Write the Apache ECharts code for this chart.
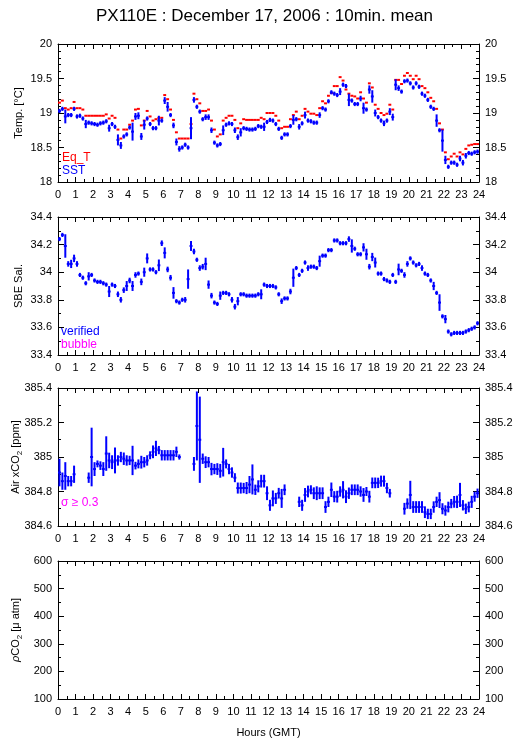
<!DOCTYPE html>
<html><head><meta charset="utf-8">
<script src="https://cdn.jsdelivr.net/npm/echarts@6/dist/echarts.min.js"></script>
<style>html,body{margin:0;padding:0;background:#fff}#c{width:529px;height:739px}</style>
</head><body><div id="c"></div>
<script>
const TITLE = 'PX110E : December 17, 2006 : 10min. mean';
const SLOT_MINUTES = 10;

// Panel 1: temperatures (°C), one value per 10-min slot, 0..24 h
const SST = [
19.03,19.06,18.95,18.97,18.97,19.06, 18.95,18.96,18.92,18.84,18.86,18.85,
18.84,18.83,18.85,18.86,18.88,18.78, 18.84,18.80,18.61,18.53,18.66,18.69,
18.79,18.73,18.95,18.96,18.66,18.83, 18.92,18.84,18.78,18.78,18.89,18.89,
19.18,19.09,18.97,18.82,18.58,18.48, 18.50,18.54,18.50,18.78,19.19,19.09,
19.02,18.91,18.94,18.94,18.75,18.57, 18.53,18.55,18.75,18.83,18.85,18.84,
18.75,18.65,18.72,18.78,18.77,18.76, 18.76,18.77,18.81,18.80,18.80,18.87,
18.90,18.89,18.84,18.77,18.64,18.69, 18.69,18.81,18.90,18.91,18.80,18.85,
18.97,18.89,18.88,18.86,18.86,18.97, 19.07,19.05,19.17,19.30,19.28,19.26,
19.31,19.41,19.39,19.19,19.18,19.13, 19.13,19.21,19.07,19.05,19.34,19.24,
19.00,18.94,18.89,18.85,18.89,19.02, 18.94,19.41,19.36,19.31,19.46,19.47,
19.43,19.37,19.43,19.38,19.28,19.25, 19.19,19.09,19.06,18.89,18.75,18.60,
18.32,18.22,18.28,18.28,18.25,18.34, 18.28,18.38,18.42,18.41,18.43,18.44
];
const SST_SD = [
0.03,0.03,0.10,0.03,0.03,0.03, 0.03,0.03,0.03,0.06,0.03,0.03,
0.03,0.03,0.03,0.03,0.03,0.05, 0.03,0.03,0.08,0.05,0.03,0.03,
0.03,0.13,0.05,0.05,0.05,0.07, 0.03,0.03,0.03,0.03,0.07,0.03,
0.05,0.07,0.03,0.04,0.05,0.04, 0.03,0.03,0.03,0.16,0.04,0.03,
0.03,0.03,0.04,0.04,0.04,0.03, 0.03,0.03,0.07,0.03,0.03,0.03,
0.04,0.04,0.06,0.03,0.03,0.03, 0.03,0.03,0.03,0.03,0.06,0.03,
0.03,0.03,0.03,0.03,0.03,0.03, 0.03,0.03,0.07,0.03,0.04,0.03,
0.05,0.03,0.03,0.03,0.03,0.04, 0.03,0.03,0.03,0.03,0.03,0.03,
0.05,0.03,0.03,0.09,0.03,0.03, 0.03,0.04,0.08,0.03,0.06,0.09,
0.05,0.03,0.03,0.04,0.03,0.05, 0.05,0.08,0.04,0.03,0.03,0.03,
0.03,0.03,0.03,0.03,0.03,0.03, 0.03,0.03,0.03,0.09,0.03,0.16,
0.06,0.03,0.03,0.03,0.03,0.04, 0.04,0.04,0.03,0.03,0.03,0.03
];
const EQ_T = [
19.15,19.18,19.07,19.05,19.07,19.16, 19.07,19.07,19.05,18.96,18.96,18.96,
18.96,18.96,18.96,18.96,18.98,18.92, 18.96,18.93,18.76,18.63,18.76,18.76,
18.83,18.89,19.05,19.06,18.82,18.89, 19.03,18.95,18.89,18.91,18.93,18.93,
19.26,19.20,19.05,18.90,18.72,18.63, 18.63,18.63,18.63,18.84,19.28,19.20,
19.14,19.03,19.03,19.05,18.89,18.76, 18.66,18.69,18.89,18.93,18.96,18.96,
18.90,18.78,18.85,18.91,18.90,18.90, 18.90,18.90,18.90,18.93,18.91,19.00,
19.00,19.00,18.96,18.89,18.78,18.80, 18.80,18.91,18.97,19.02,18.91,18.96,
19.06,19.02,18.99,18.99,18.97,19.07, 19.17,19.14,19.25,19.29,19.39,19.39,
19.52,19.47,19.34,19.28,19.25,19.24, 19.21,19.30,19.21,19.15,19.43,19.37,
19.12,19.06,19.00,18.97,18.99,19.12, 19.05,19.48,19.48,19.42,19.54,19.58,
19.54,19.49,19.54,19.49,19.39,19.36, 19.30,19.22,19.17,19.06,18.85,18.76,
18.43,18.33,18.37,18.41,18.37,18.43, 18.40,18.48,18.53,18.54,18.55,18.55
];

// Panel 2: SBE salinity
const SAL = [
34.24,34.27,34.19,34.06,34.06,34.10, 34.06,33.98,33.96,33.92,33.97,33.98,
33.94,33.93,33.93,33.92,33.91,33.86, 33.91,33.90,33.84,33.80,33.87,33.90,
33.94,33.90,33.98,33.99,33.93,34.00, 34.10,34.02,34.02,34.00,34.05,34.21,
34.14,34.02,33.96,33.85,33.79,33.78, 33.80,33.80,33.95,34.19,34.15,34.09,
34.03,34.04,34.06,33.91,33.83,33.78, 33.77,33.83,33.85,33.85,33.84,33.80,
33.75,33.79,33.84,33.84,33.83,33.83, 33.83,33.83,33.84,33.84,33.91,33.90,
33.90,33.90,33.89,33.84,33.79,33.81, 33.81,33.86,33.96,34.03,33.98,34.01,
34.07,34.03,34.04,34.04,34.03,34.08, 34.12,34.12,34.16,34.16,34.23,34.23,
34.21,34.21,34.21,34.24,34.19,34.17, 34.13,34.13,34.18,34.13,34.04,34.11,
34.07,33.99,33.99,33.95,33.94,33.93, 33.98,33.93,34.02,34.01,33.98,34.06,
34.10,34.07,34.05,34.06,34.03,33.99, 33.98,33.94,33.90,33.85,33.78,33.68,
33.66,33.57,33.55,33.56,33.56,33.56, 33.56,33.57,33.58,33.59,33.60,33.63
];
const SAL_SD = [
0.015,0.015,0.085,0.02,0.03,0.027, 0.02,0.015,0.015,0.015,0.03,0.015,
0.015,0.015,0.015,0.015,0.015,0.04, 0.015,0.015,0.02,0.02,0.02,0.036,
0.02,0.036,0.02,0.015,0.024,0.033, 0.036,0.015,0.015,0.015,0.042,0.02,
0.04,0.02,0.02,0.042,0.015,0.015, 0.015,0.02,0.07,0.036,0.02,0.015,
0.02,0.02,0.045,0.03,0.02,0.015, 0.015,0.03,0.015,0.015,0.015,0.02,
0.02,0.03,0.015,0.015,0.015,0.015, 0.015,0.015,0.015,0.036,0.015,0.015,
0.015,0.015,0.015,0.015,0.02,0.015, 0.015,0.02,0.066,0.015,0.015,0.015,
0.015,0.02,0.015,0.015,0.015,0.04, 0.015,0.015,0.015,0.015,0.015,0.015,
0.015,0.015,0.015,0.02,0.048,0.015, 0.015,0.015,0.03,0.04,0.02,0.03,
0.036,0.015,0.015,0.015,0.015,0.015, 0.015,0.015,0.042,0.015,0.02,0.02,
0.015,0.015,0.015,0.015,0.02,0.015, 0.015,0.015,0.03,0.015,0.06,0.015,
0.03,0.015,0.015,0.015,0.015,0.015, 0.015,0.015,0.015,0.015,0.015,0.015
];

// Panel 3: air xCO2 (ppm); null = no data
const XCO2 = [
384.91,384.86,384.89,384.86,384.86,384.90, null,null,null,null,384.88,385.00,
384.93,384.96,384.95,384.93,385.02,384.98, 384.97,384.98,384.98,385.00,384.99,384.98,
384.98,384.98,384.95,384.96,384.97,384.97, 384.98,385.01,385.03,385.05,385.04,385.01,
385.01,385.01,385.01,385.01,385.03,385.00, null,null,null,null,384.96,385.18,
385.10,384.99,384.97,384.97,384.93,384.93, 384.93,384.92,384.97,384.96,384.93,384.91,
384.88,384.82,384.82,384.82,384.82,384.84, 384.87,384.81,384.83,384.86,384.86,384.79,
384.72,384.76,384.76,384.79,384.76,384.81, null,null,null,null,384.74,384.72,
384.78,384.80,384.81,384.79,384.79,384.79, 384.79,384.71,384.74,384.81,384.77,384.77,
384.80,384.81,384.77,384.79,384.81,384.81, 384.81,384.80,384.78,384.80,384.77,384.85,
384.85,384.85,384.86,384.86,384.82,384.79, null,null,null,null,384.70,384.73,
384.78,384.71,384.71,384.71,384.71,384.68, 384.67,384.67,384.71,384.74,384.75,384.70,
384.69,384.71,384.73,384.74,384.74,384.78, 384.72,384.70,384.71,384.74,384.77,384.79
];
const XCO2_SD = [
0.08,0.05,0.08,0.03,0.03,0.05, null,null,null,null,0.03,0.17,
0.04,0.02,0.025,0.04,0.10,0.045, 0.04,0.075,0.03,0.03,0.036,0.03,
0.027,0.085,0.022,0.026,0.037,0.03, 0.03,0.023,0.037,0.044,0.024,0.03,
0.03,0.03,0.03,0.03,0.03,0.015, null,null,null,null,0.04,0.2,
0.25,0.03,0.034,0.03,0.036,0.03, 0.034,0.04,0.083,0.026,0.03,0.03,
0.026,0.032,0.032,0.03,0.035,0.05, 0.087,0.03,0.035,0.037,0.037,0.04,
0.032,0.046,0.032,0.031,0.055,0.031, null,null,null,null,0.03,0.032,
0.04,0.034,0.026,0.034,0.04,0.034, 0.034,0.034,0.03,0.042,0.032,0.034,
0.03,0.05,0.037,0.033,0.031,0.031, 0.031,0.03,0.04,0.026,0.034,0.031,
0.031,0.03,0.032,0.032,0.03,0.025, null,null,null,null,0.034,0.03,
0.082,0.034,0.034,0.034,0.034,0.034, 0.03,0.03,0.033,0.03,0.046,0.032,
0.03,0.031,0.027,0.034,0.036,0.07, 0.03,0.03,0.031,0.035,0.029,0.027
];

// Panel 4: pCO2 — no data this day
const PCO2 = [];

const FONT = "'Liberation Sans', Arial, Helvetica, sans-serif";
const BLUE = '#0000ff', RED = '#ff0000', MAGENTA = '#ff00ff';
const GRID_TOPS = [44, 217, 388, 561];
const GRID_H = 138;
const Y_CFG = [
  {min: 18, max: 20, interval: 0.5, minor: 5, name: 'Temp. [°C]'},
  {min: 33.4, max: 34.4, interval: 0.2, minor: 2, name: 'SBE Sal.'},
  {min: 384.6, max: 385.4, interval: 0.2, minor: 2, name: 'Air xCO{sub|2} [ppm]'},
  {min: 100, max: 600, interval: 100, minor: 2, name: '{it|ρ}CO{sub|2} [μ atm]'}
];

const slotHours = SLOT_MINUTES / 60;
function toData(vals, sds) {
  const out = [];
  vals.forEach((v, i) => {
    if (v === null || v === undefined) return;
    out.push([(i + 0.5) * slotHours, v, sds ? sds[i] : 0]);
  });
  return out;
}

function crossRenderer(color, withBar) {
  return function (params, api) {
    const x = api.value(0), y = api.value(1), e = api.value(2);
    const h = slotHours / 2;
    const l = api.coord([x - h, y]), r = api.coord([x + h, y]);
    const children = [{type: 'line', shape: {x1: l[0], y1: l[1], x2: r[0], y2: r[1]},
      style: {stroke: color, lineWidth: 2}}];
    if (withBar) {
      const t = api.coord([x, y + e]), b = api.coord([x, y - e]);
      children.push({type: 'line', shape: {x1: t[0], y1: t[1], x2: b[0], y2: b[1]},
        style: {stroke: color, lineWidth: 2}});
    }
    return {type: 'group', children};
  };
}

const grids = [], xAxes = [], yAxes = [];
GRID_TOPS.forEach((top, gi) => {
  grids.push({left: 58, right: 50, top: top, height: GRID_H, outerBoundsMode: 'none', containLabel: false});
  const baseX = {
    type: 'value', gridIndex: gi, min: 0, max: 24, interval: 1,
    axisLine: {show: true, onZero: false, lineStyle: {color: '#000', width: 1}},
    axisTick: {show: true, inside: true, length: 5, lineStyle: {color: '#000', width: 1}},
    minorTick: {show: true, splitNumber: 2, length: 3, lineStyle: {color: '#000', width: 1}},
    splitLine: {show: false}, minorSplitLine: {show: false}
  };
  const bottom = Object.assign({}, baseX, {position: 'bottom',
    axisLabel: {show: true, fontSize: 11, color: '#000', margin: 7, fontFamily: FONT}});
  if (gi === 3) {
    Object.assign(bottom, {name: 'Hours (GMT)', nameLocation: 'middle', nameGap: 28,
      nameTextStyle: {fontSize: 11, color: '#000', fontFamily: FONT}});
  }
  xAxes.push(bottom);
  xAxes.push(Object.assign({}, baseX, {position: 'top', axisLabel: {show: false}}));

  const c = Y_CFG[gi];
  const baseY = {
    type: 'value', gridIndex: gi, min: c.min, max: c.max, interval: c.interval,
    axisLine: {show: true, onZero: false, lineStyle: {color: '#000', width: 1}},
    axisTick: {show: true, inside: true, length: 6, lineStyle: {color: '#000', width: 1}},
    minorTick: {show: true, splitNumber: c.minor, length: 3, lineStyle: {color: '#000', width: 1}},
    splitLine: {show: false}, minorSplitLine: {show: false},
    axisLabel: {show: true, fontSize: 11, color: '#000', margin: 6, fontFamily: FONT}
  };
  yAxes.push(Object.assign({}, baseY, {position: 'left',
    name: c.name, nameLocation: 'middle', nameRotate: 90, nameGap: 34, nameMoveOverlap: false,
    nameTextStyle: {fontSize: 11, color: '#000', fontFamily: FONT,
      rich: {sub: {fontSize: 8, fontFamily: FONT, color: '#000', verticalAlign: 'bottom', lineHeight: 16},
             it: {fontSize: 11, fontStyle: 'italic', fontFamily: FONT, color: '#000'}}}}));
  yAxes.push(Object.assign({}, baseY, {position: 'right'}));
});

const series = [
  {type: 'custom', name: 'Eq_T', xAxisIndex: 0, yAxisIndex: 0, renderItem: crossRenderer(RED, false),
   data: toData(EQ_T, null), encode: {x: 0, y: 1}, z: 2},
  {type: 'custom', name: 'SST', xAxisIndex: 0, yAxisIndex: 0, renderItem: crossRenderer(BLUE, true),
   data: toData(SST, SST_SD), encode: {x: 0, y: 1}, z: 3},
  {type: 'custom', name: 'verified', xAxisIndex: 2, yAxisIndex: 2, renderItem: crossRenderer(BLUE, true),
   data: toData(SAL, SAL_SD), encode: {x: 0, y: 1}, z: 3},
  {type: 'custom', name: 'xCO2', xAxisIndex: 4, yAxisIndex: 4, renderItem: crossRenderer(BLUE, true),
   data: toData(XCO2, XCO2_SD), encode: {x: 0, y: 1}, z: 3},
  {type: 'custom', name: 'pCO2', xAxisIndex: 6, yAxisIndex: 6, renderItem: crossRenderer(BLUE, true),
   data: toData(PCO2, null), encode: {x: 0, y: 1}, z: 3}
];

function label(text, x, y, color) {
  return {type: 'text', left: x, top: y, z: 100,
    style: {text: text, fill: color, fontSize: 12, fontFamily: FONT}};
}

const chart = echarts.init(document.getElementById('c'), null, {renderer: 'canvas'});
chart.setOption({
  animation: false,
  backgroundColor: '#ffffff',
  title: {text: TITLE, left: 'center', top: 3,
    textStyle: {fontSize: 17, fontWeight: 'normal', color: '#000', fontFamily: FONT}},
  grid: grids, xAxis: xAxes, yAxis: yAxes, series: series,
  graphic: [
    label('Eq_T', 62, 152, RED),
    label('SST', 62, 165, BLUE),
    label('verified', 61, 326, BLUE),
    label('bubble', 61, 339, MAGENTA),
    label('σ ≥ 0.3', 61, 497, MAGENTA)
  ]
});
</script>
</body></html>
